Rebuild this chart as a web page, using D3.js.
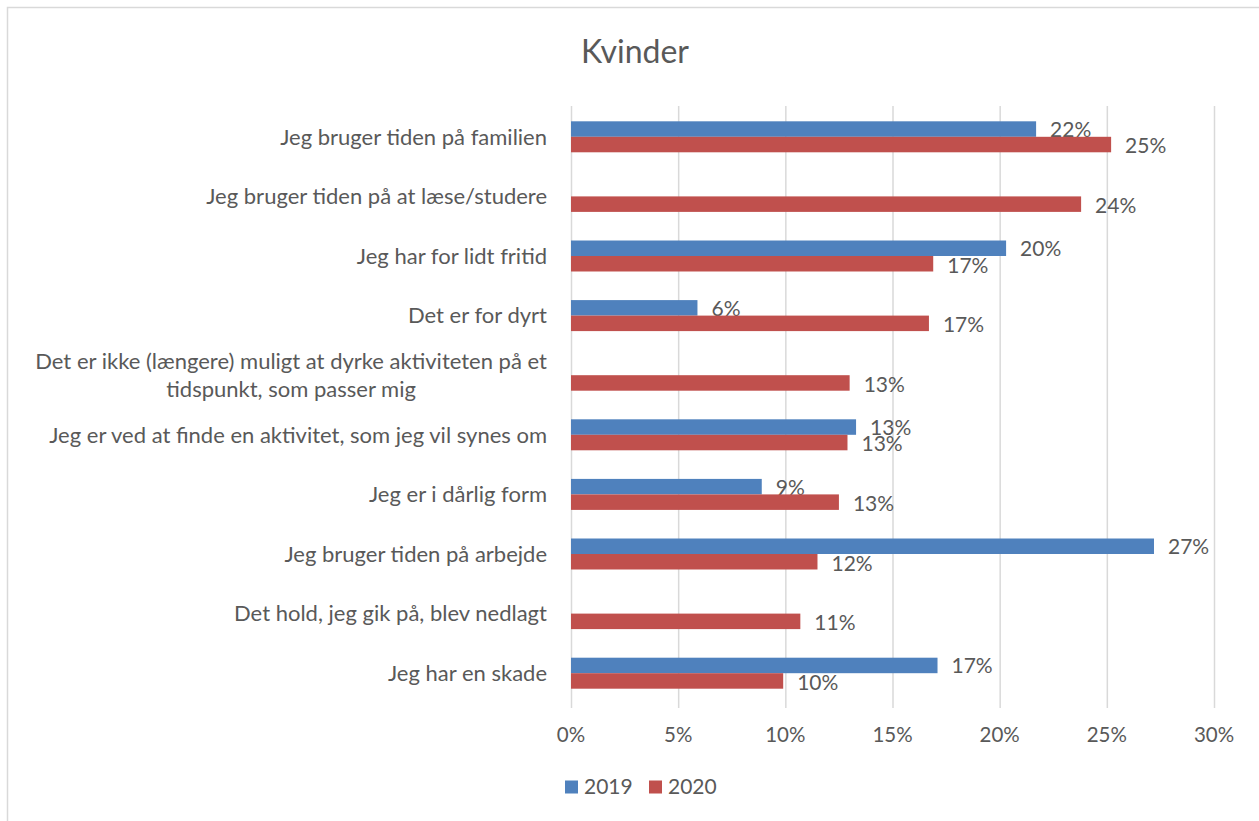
<!DOCTYPE html>
<html>
<head>
<meta charset="utf-8">
<script src="https://cdn.jsdelivr.net/npm/d3@7"></script>
<style>
  body { margin: 0; background: #fff; }
  text { font-family: Lato, "Open Sans", sans-serif; fill: #595959; }
</style>
</head>
<body>
<div id="chart"></div>
<script>
// categories, top to bottom
var categories = [
    ["Jeg bruger tiden på familien"],
    ["Jeg bruger tiden på at læse/studere"],
    ["Jeg har for lidt fritid"],
    ["Det er for dyrt"],
    ["Det er ikke (længere) muligt at dyrke aktiviteten på et", "tidspunkt, som passer mig"],
    ["Jeg er ved at finde en aktivitet, som jeg vil synes om"],
    ["Jeg er i dårlig form"],
    ["Jeg bruger tiden på arbejde"],
    ["Det hold, jeg gik på, blev nedlagt"],
    ["Jeg har en skade"]
];
var values2019 = [21.7, null, 20.3, 5.9, null, 13.3, 8.9, 27.2, null, 17.1];
var values2020 = [25.2, 23.8, 16.9, 16.7, 13.0, 12.9, 12.5, 11.5, 10.7, 9.9];
var tickValues = [0, 5, 10, 15, 20, 25, 30];
var seriesNames = ["2019", "2020"];
var colors = ["#4f81bd", "#c0504d"];

var width = 1259, height = 821;
var margin = { top: 107, right: 45, bottom: 118, left: 571 };

var svg = d3.select("#chart").append("svg")
    .attr("width", width)
    .attr("height", height);

// outer chart frame
svg.append("rect")
    .attr("x", 7.5).attr("y", 7.5)
    .attr("width", width).attr("height", height)
    .attr("fill", "none")
    .attr("stroke", "#d9d9d9")
    .attr("stroke-width", 1.5);

svg.append("text")
    .attr("x", 635)
    .attr("y", 63)
    .attr("text-anchor", "middle")
    .style("font-size", "32px")
    .text("Kvinder");

var x = d3.scaleLinear().domain([0, 30]).range([margin.left, 1214]);
var y = d3.scaleBand()
    .domain(d3.range(categories.length))
    .range([margin.top, 703])
    .paddingInner(0.48).paddingOuter(0.24);
var ySub = d3.scaleBand().domain([0, 1]).range([0, y.bandwidth()]);

// gridlines
svg.append("g")
    .selectAll("line")
    .data(tickValues).enter().append("line")
    .attr("x1", function(d) { return x(d) + 0.5; })
    .attr("x2", function(d) { return x(d) + 0.5; })
    .attr("y1", 106)
    .attr("y2", 708)
    .attr("stroke", "#d9d9d9")
    .attr("stroke-width", 1.5);

// x tick labels
svg.append("g")
    .selectAll("text")
    .data(tickValues).enter().append("text")
    .attr("x", function(d) { return x(d); })
    .attr("y", 742)
    .attr("text-anchor", "middle")
    .style("font-size", "20.5px")
    .text(function(d) { return d + "%"; });

// category labels
var catLabel = svg.append("g")
    .selectAll("text")
    .data(categories).enter().append("text")
    .attr("text-anchor", "middle")
    .style("font-size", "22px")
    .attr("transform", function(d, i) {
        return "translate(0," + (y(i) + y.bandwidth() / 2) + ")";
    });
catLabel.each(function(lines) {
    var t = d3.select(this);
    lines.forEach(function(line, j) {
        t.append("tspan")
            .attr("x", 0)
            .attr("y", (j - (lines.length - 1) / 2) * 28)
            .attr("dy", "0.35em")
            .text(line);
    });
});
// right align the whole label block at x=547, center lines within it
catLabel.each(function(d, i) {
    var w = this.getBBox().width;
    d3.select(this).attr("transform",
        "translate(" + (547 - w / 2) + "," + (y(i) + y.bandwidth() / 2) + ")");
});

var series = [values2019, values2020];
series.forEach(function(vals, s) {
    var data = vals.map(function(v, i) { return { v: v, i: i }; })
        .filter(function(d) { return d.v !== null; });
    var g = svg.append("g");
    g.selectAll("rect")
        .data(data).enter().append("rect")
        .attr("x", x(0))
        .attr("y", function(d) { return y(d.i) + ySub(s); })
        .attr("width", function(d) { return x(d.v) - x(0); })
        .attr("height", ySub.bandwidth())
        .attr("fill", colors[s]);
    g.selectAll("text")
        .data(data).enter().append("text")
        .attr("x", function(d) { return x(d.v) + 14; })
        .attr("y", function(d) { return y(d.i) + ySub(s) + ySub.bandwidth() / 2 + (s ? 1.5 : 0.5); })
        .attr("dy", "0.35em")
        .style("font-size", "21px")
        .text(function(d) { return Math.round(d.v) + "%"; });
});

// legend
var legend = svg.append("g").attr("transform", "translate(565,787)");
var item = legend.selectAll("g")
    .data(seriesNames).enter().append("g")
    .attr("transform", function(d, i) { return "translate(" + (i * 84) + ",0)"; });
item.append("rect")
    .attr("x", 0).attr("y", -6.5)
    .attr("width", 13).attr("height", 13)
    .attr("fill", function(d, i) { return colors[i]; });
item.append("text")
    .attr("x", 19).attr("y", 0)
    .attr("dy", "0.35em")
    .style("font-size", "21px")
    .text(function(d) { return d; });
</script>
</body>
</html>
